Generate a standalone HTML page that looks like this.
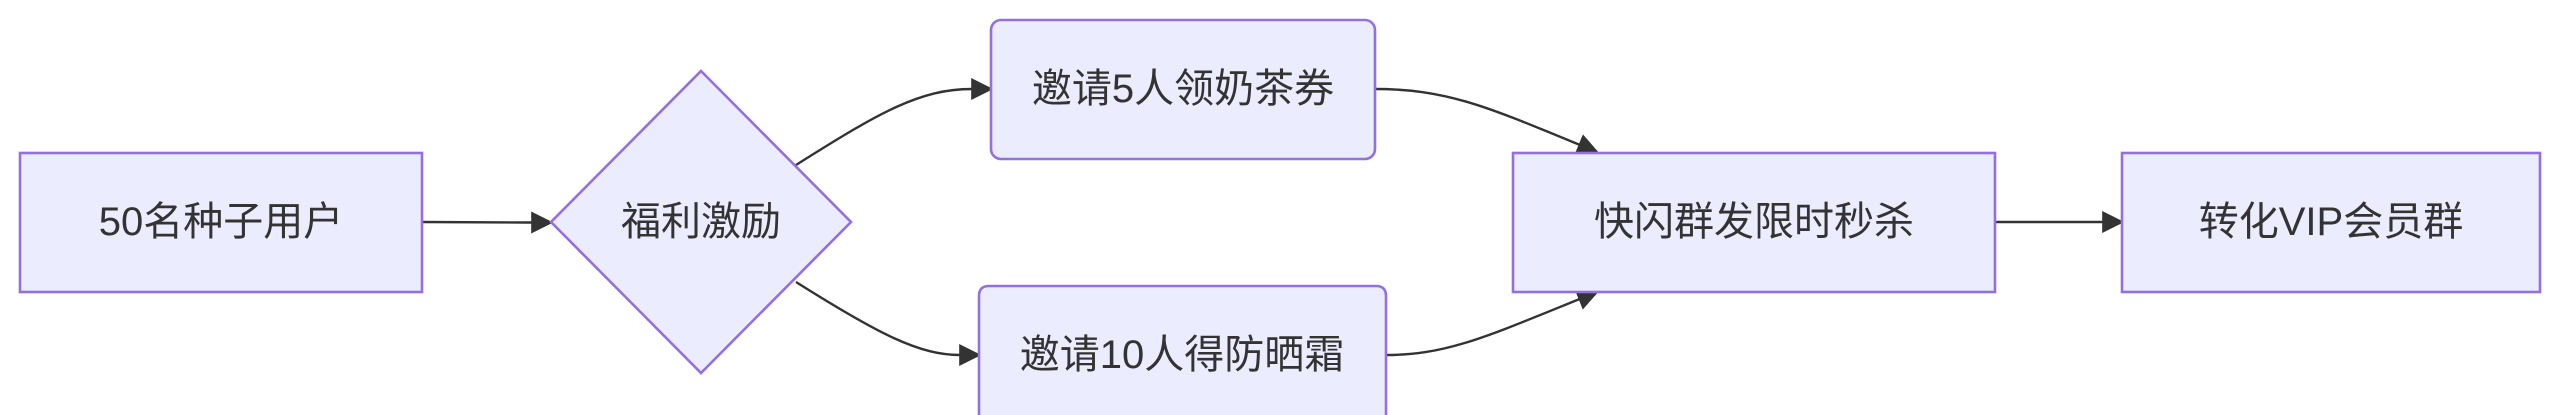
<!DOCTYPE html>
<html><head><meta charset="utf-8"><style>
html,body{margin:0;padding:0;background:#fff;width:2560px;height:415px;overflow:hidden}
text{font-family:"Liberation Sans","Noto Sans CJK SC",sans-serif;font-size:40px;fill:#333;text-anchor:middle;dominant-baseline:central}
</style></head><body>
<svg width="2560" height="415" viewBox="0 0 2560 415" xmlns="http://www.w3.org/2000/svg" style="display:block">
<defs>
<marker id="b" viewBox="0 0 10 10" refX="9" refY="5" markerWidth="22" markerHeight="22" markerUnits="userSpaceOnUse" orient="auto"><path d="M0,0L10,5L0,10z" fill="#333"/></marker></defs>
<g fill="none" stroke="#333" stroke-width="2.4">
<path d="M422,222 L528,222.5 L551,222.5" marker-end="url(#b)"/>
<path d="M796,165 C880,112 920,89 972,89 L991,89" marker-end="url(#b)"/>
<path d="M796,282 C880,335 920,355 960,355 L979,355" marker-end="url(#b)"/>
<path d="M1375,89 C1450,89 1490,108 1597,152" marker-end="url(#b)"/>
<path d="M1386,355 C1450,355 1490,335 1597,292" marker-end="url(#b)"/>
<path d="M1995,222 L2122,222" marker-end="url(#b)"/>
</g>
<g fill="#ECECFF" stroke="#9370DB" stroke-width="2.6">
<rect x="20" y="153" width="402" height="139"/>
<polygon points="701,71 851,222 701,373 551,222"/>
<rect x="991" y="20" width="384" height="139" rx="10"/>
<path d="M979,415 L979,296 Q979,286 989,286 L1376,286 Q1386,286 1386,296 L1386,415"/>
<rect x="1513" y="153" width="482" height="139"/>
<rect x="2122" y="153" width="418" height="139"/>
</g>
<text x="221" y="222">50名种子用户</text>
<text x="701" y="222">福利激励</text>
<text x="1183" y="89">邀请5人领奶茶券</text>
<text x="1182" y="355">邀请10人得防晒霜</text>
<text x="1754" y="222">快闪群发限时秒杀</text>
<text x="2331" y="222">转化VIP会员群</text>
</svg>
</body></html>
